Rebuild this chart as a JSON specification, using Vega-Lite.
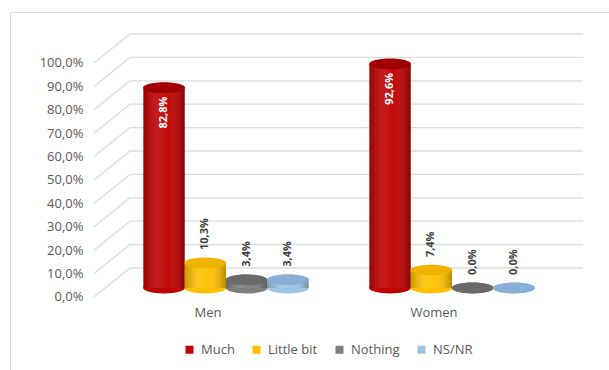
{
  "$schema": "https://vega.github.io/schema/vega-lite/v6.json",
  "width": 599,
  "height": 358,
  "autosize": {"type": "none"},
  "padding": {"left": 10, "top": 12, "right": 0, "bottom": 0},
  "background": "white",
  "config": {
    "view": {"stroke": "#d9d9d9", "strokeWidth": 1},
    "font": "Open Sans",
    "locale": {"number": {"decimal": ",", "thousands": ".", "grouping": [3], "currency": ["", " €"]}},
    "axis": {"labelFont": "Open Sans", "labelColor": "#595959", "labelFontSize": 13}
  },
  "datasets": {
    "survey": [
      {"group": "Men", "series": "Much", "value": 0.828},
      {"group": "Men", "series": "Little bit", "value": 0.103},
      {"group": "Men", "series": "Nothing", "value": 0.034},
      {"group": "Men", "series": "NS/NR", "value": 0.034},
      {"group": "Women", "series": "Much", "value": 0.926},
      {"group": "Women", "series": "Little bit", "value": 0.074},
      {"group": "Women", "series": "Nothing", "value": 0.0},
      {"group": "Women", "series": "NS/NR", "value": 0.0}
    ],
    "ticks": [
      {"v": 0}, {"v": 0.1}, {"v": 0.2}, {"v": 0.3}, {"v": 0.4}, {"v": 0.5},
      {"v": 0.6}, {"v": 0.7}, {"v": 0.8}, {"v": 0.9}, {"v": 1.0}
    ]
  },
  "layer": [
    {
      "data": {"name": "ticks"},
      "mark": {"type": "rule", "color": "#dcdcdc", "strokeWidth": 1.3, "yOffset": -29},
      "encoding": {
        "x": {"datum": 0.2003, "type": "quantitative", "scale": {"domain": [0, 1], "nice": false, "zero": false}, "axis": null},
        "x2": {"datum": 0.9566},
        "y": {"field": "v", "type": "quantitative", "scale": {"domain": [-0.312, 1.2179], "nice": false, "zero": false}, "axis": null}
      }
    },
    {
      "data": {"name": "ticks"},
      "mark": {"type": "rule", "color": "#dcdcdc", "strokeWidth": 1.3, "y2Offset": -29},
      "encoding": {
        "x": {"datum": 0.1402, "type": "quantitative", "scale": {"domain": [0, 1], "nice": false, "zero": false}, "axis": null},
        "x2": {"datum": 0.2003},
        "y": {
          "field": "v", "type": "quantitative",
          "scale": {"domain": [-0.312, 1.2179], "nice": false, "zero": false},
          "axis": {
            "orient": "left", "offset": -76, "values": [0, 0.1, 0.2, 0.3, 0.4, 0.5, 0.6, 0.7, 0.8, 0.9, 1.0],
            "format": ".1%", "domain": false, "ticks": false, "grid": false, "labelPadding": 3, "title": null
          }
        },
        "y2": {"field": "v"}
      }
    },
    {
      "data": {"name": "survey"},
      "mark": {"type": "point", "shape": "M -1 0 A 1 0.26 0 1 0 1 0 A 1 0.26 0 1 0 -1 0 Z", "size": 1764, "filled": true, "opacity": 1, "strokeWidth": 0},
      "encoding": {
        "x": {"field": "group", "type": "nominal", "scale": {"type": "band", "domain": ["Men", "Women"], "paddingInner": 0, "paddingOuter": 0.3252, "align": 0.7007}, "axis": null},
        "xOffset": {"field": "series", "type": "nominal", "scale": {"type": "band", "domain": ["Much", "Little bit", "Nothing", "NS/NR"], "paddingInner": 0, "paddingOuter": 0.736}},
        "y": {"datum": 0, "type": "quantitative", "scale": {"domain": [-0.3388, 1.1405], "nice": false, "zero": false}, "axis": null},
        "color": {
          "field": "series", "type": "nominal",
          "scale": {"domain": ["Much", "Little bit", "Nothing", "NS/NR"], "range": ["#c00000", "#ffc000", "#7f7f7f", "#9dc3e6"]},
          "legend": {
            "orient": "none", "legendX": 173, "legendY": 331, "direction": "horizontal", "title": null,
            "symbolType": "square", "symbolSize": 64, "symbolStrokeWidth": 0, "symbolOpacity": 1,
            "labelFontSize": 13, "labelColor": "#595959", "labelFont": "Open Sans", "columnPadding": 15, "labelOffset": 5, "padding": 0
          }
        }
      }
    },
    {
      "data": {"name": "survey"},
      "mark": {"type": "bar", "width": {"band": 1}},
      "encoding": {
        "x": {
          "field": "group", "type": "nominal",
          "scale": {"type": "band", "domain": ["Men", "Women"], "paddingInner": 0, "paddingOuter": 0.3252, "align": 0.7007},
          "axis": {"orient": "bottom", "offset": -66, "domain": false, "ticks": false, "labelPadding": 2, "labelOffset": -18, "labelAngle": 0, "title": null, "grid": false}
        },
        "xOffset": {"field": "series", "type": "nominal", "scale": {"type": "band", "domain": ["Much", "Little bit", "Nothing", "NS/NR"], "paddingInner": 0, "paddingOuter": 0.736}},
        "y": {"field": "value", "type": "quantitative", "scale": {"domain": [-0.3388, 1.1405], "nice": false, "zero": false}, "axis": null},
        "y2": {"datum": 0},
        "color": {"field": "series", "type": "nominal", "scale": {"domain": ["Much", "Little bit", "Nothing", "NS/NR"], "range": ["#c00000", "#ffc000", "#7f7f7f", "#9dc3e6"]}}
      }
    },
    {
      "data": {"name": "survey"},
      "mark": {
        "type": "bar", "width": {"band": 1},
        "color": {
          "gradient": "linear", "x1": 0, "y1": 0, "x2": 1, "y2": 0,
          "stops": [
            {"offset": 0, "color": "rgba(0,0,0,0.22)"},
            {"offset": 0.35, "color": "rgba(255,255,255,0.1)"},
            {"offset": 0.6, "color": "rgba(255,255,255,0.04)"},
            {"offset": 1, "color": "rgba(0,0,0,0.28)"}
          ]
        }
      },
      "encoding": {
        "x": {"field": "group", "type": "nominal", "scale": {"type": "band", "domain": ["Men", "Women"], "paddingInner": 0, "paddingOuter": 0.3252, "align": 0.7007}, "axis": null},
        "xOffset": {"field": "series", "type": "nominal", "scale": {"type": "band", "domain": ["Much", "Little bit", "Nothing", "NS/NR"], "paddingInner": 0, "paddingOuter": 0.736}},
        "y": {"field": "value", "type": "quantitative", "scale": {"domain": [-0.3388, 1.1405], "nice": false, "zero": false}, "axis": null},
        "y2": {"datum": 0}
      }
    },
    {
      "data": {"name": "survey"},
      "mark": {"type": "point", "shape": "M -1 0 A 1 0.26 0 1 0 1 0 A 1 0.26 0 1 0 -1 0 Z", "size": 1764, "filled": true, "opacity": 1, "strokeWidth": 0},
      "encoding": {
        "x": {"field": "group", "type": "nominal", "scale": {"type": "band", "domain": ["Men", "Women"], "paddingInner": 0, "paddingOuter": 0.3252, "align": 0.7007}, "axis": null},
        "xOffset": {"field": "series", "type": "nominal", "scale": {"type": "band", "domain": ["Much", "Little bit", "Nothing", "NS/NR"], "paddingInner": 0, "paddingOuter": 0.736}},
        "y": {"field": "value", "type": "quantitative", "scale": {"domain": [-0.3388, 1.1405], "nice": false, "zero": false}, "axis": null},
        "fill": {"field": "series", "type": "nominal", "scale": {"domain": ["Much", "Little bit", "Nothing", "NS/NR"], "range": ["#a20000", "#f0b400", "#6a6a6a", "#86aed8"]}, "legend": null}
      }
    },
    {
      "data": {"name": "survey"},
      "transform": [{"filter": "datum.series == 'Much'"}],
      "mark": {"type": "text", "angle": 270, "align": "right", "baseline": "middle", "yOffset": 9, "fontWeight": "bold", "fontSize": 11, "color": "white", "font": "Open Sans"},
      "encoding": {
        "x": {"field": "group", "type": "nominal", "scale": {"type": "band", "domain": ["Men", "Women"], "paddingInner": 0, "paddingOuter": 0.3252, "align": 0.7007}, "axis": null},
        "xOffset": {"field": "series", "type": "nominal", "scale": {"type": "band", "domain": ["Much", "Little bit", "Nothing", "NS/NR"], "paddingInner": 0, "paddingOuter": 0.736}},
        "y": {"field": "value", "type": "quantitative", "scale": {"domain": [-0.3388, 1.1405], "nice": false, "zero": false}, "axis": null},
        "text": {"field": "value", "type": "quantitative", "format": ".1%"}
      }
    },
    {
      "data": {"name": "survey"},
      "transform": [{"filter": "datum.series != 'Much'"}],
      "mark": {"type": "text", "angle": 270, "align": "left", "baseline": "middle", "yOffset": -13, "fontWeight": "bold", "fontSize": 11, "color": "#404040", "font": "Open Sans"},
      "encoding": {
        "x": {"field": "group", "type": "nominal", "scale": {"type": "band", "domain": ["Men", "Women"], "paddingInner": 0, "paddingOuter": 0.3252, "align": 0.7007}, "axis": null},
        "xOffset": {"field": "series", "type": "nominal", "scale": {"type": "band", "domain": ["Much", "Little bit", "Nothing", "NS/NR"], "paddingInner": 0, "paddingOuter": 0.736}},
        "y": {"field": "value", "type": "quantitative", "scale": {"domain": [-0.3388, 1.1405], "nice": false, "zero": false}, "axis": null},
        "text": {"field": "value", "type": "quantitative", "format": ".1%"}
      }
    }
  ],
  "resolve": {"scale": {"x": "independent", "y": "independent", "xOffset": "independent", "fill": "independent"}}
}
